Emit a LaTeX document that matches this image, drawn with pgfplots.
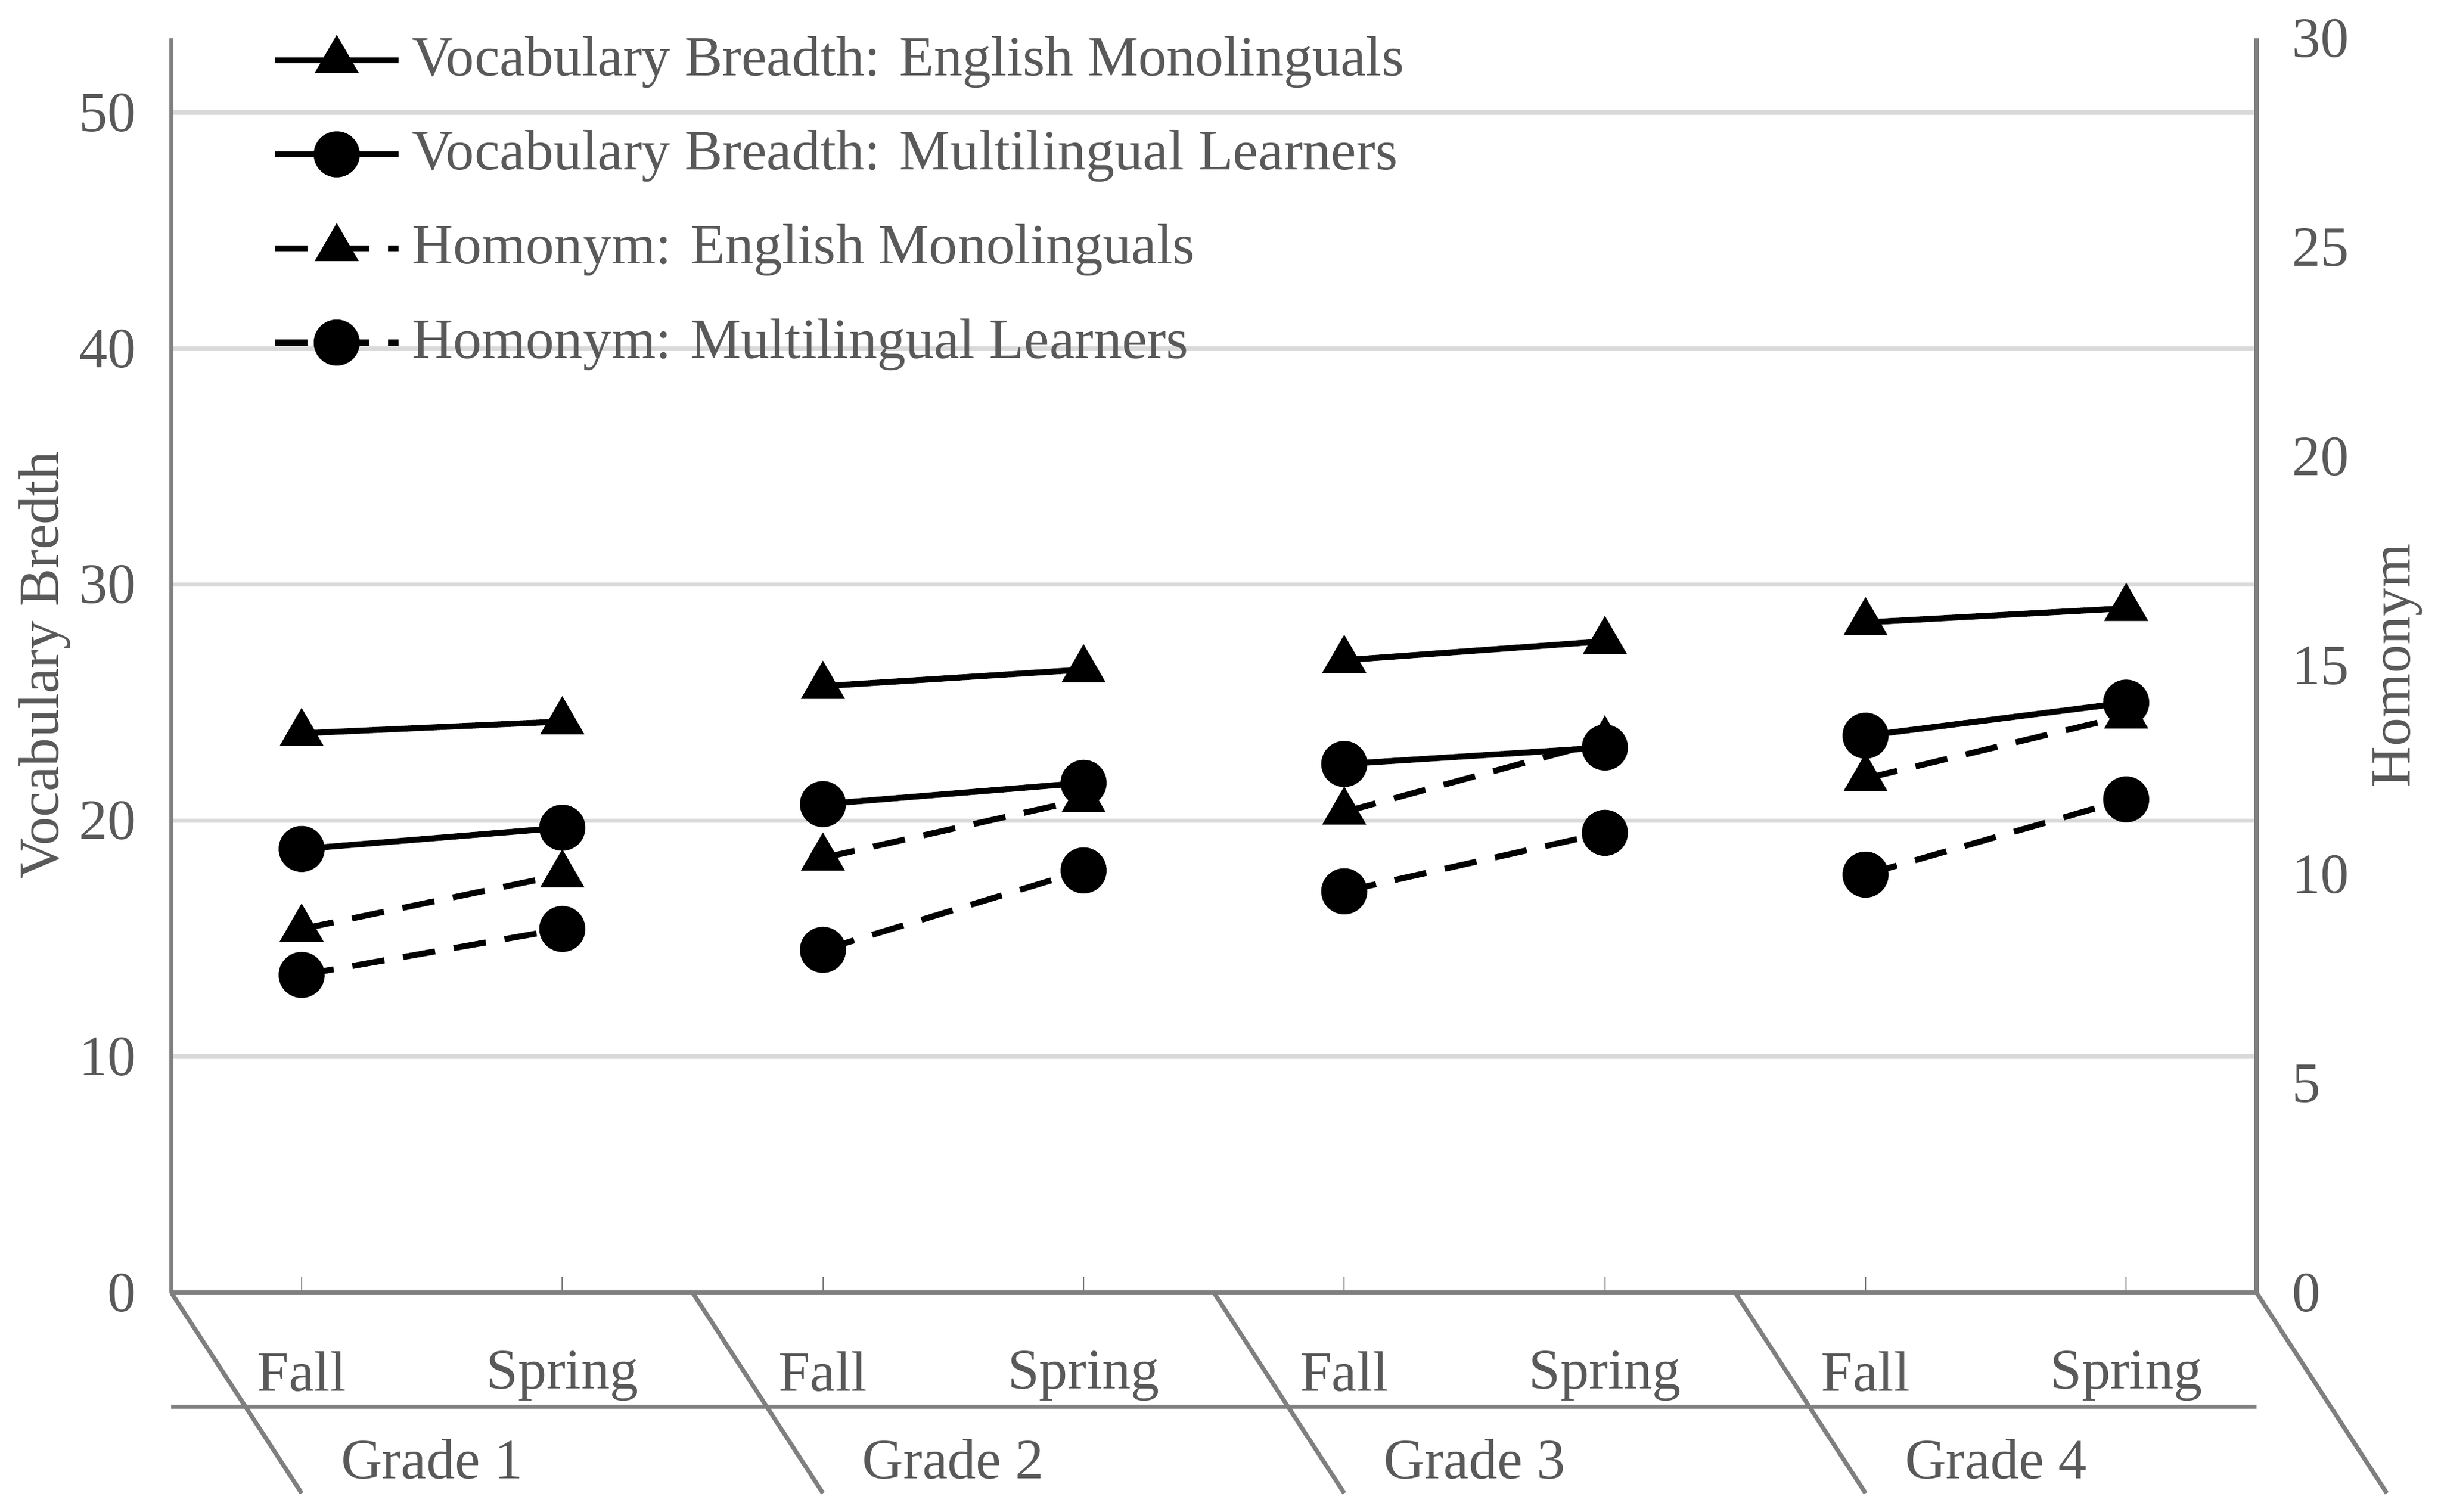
\documentclass[border=0pt]{standalone}
\usepackage{pgfplots}
\pgfplotsset{compat=1.18}
\usepackage{fontspec}
\setmainfont{Liberation Serif}
\definecolor{tg}{HTML}{595959}
\definecolor{ax}{HTML}{7F7F7F}
\definecolor{gr}{HTML}{D9D9D9}
\begin{document}
\fontsize{10.5}{12}\selectfont
\begin{tikzpicture}
\pgfplotsset{
 base/.style={scale only axis, width=13.52cm, height=8.13cm,
  xmin=-0.5, xmax=7.5, ymin=0, clip=false,
  /pgf/number format/assume math mode=true,
  tick label style={color=tg,font=\fontsize{10.5}{12}\selectfont},
  label style={color=tg,font=\fontsize{10.5}{12}\selectfont},
  major tick length=0.1cm, tick style={color=ax},
 },
 sl/.style={black,line width=1.1pt},
 dl/.style={black,line width=1.1pt,dash pattern=on 6pt off 3.5pt},
 tri/.style={mark=triangle*,mark size=3.6pt,mark options={solid}},
 cir/.style={mark=*,mark size=3.7pt,mark options={solid}},
}
\begin{axis}[base, name=a1, ymax=53.14,
  axis x line*=bottom, axis y line*=left, x axis line style={ax,line width=0.8pt},
  y axis line style={ax,line width=0.8pt},
  ytick={0,10,20,30,40,50}, ymajorgrids, grid style={gr,line width=0.8pt},
  ytick style={draw=none}, yticklabel style={xshift=-0.1cm},
  xtick={0,...,7}, xticklabels={Fall,Spring,Fall,Spring,Fall,Spring,Fall,Spring},
  xtick align=inside, xticklabel style={yshift=-0.25cm},
  ylabel={Vocabulary Bredth}, ylabel style={yshift=-0.2cm},
  legend style={draw=none, fill=none, at={(0.04,1.02)}, anchor=north west,
    font=\fontsize{10.5}{12}\selectfont, text=tg, row sep=4.5pt, cells={anchor=west}},
  legend cell align=left,
  legend image code/.code={\draw[#1] (0cm,0cm) -- (0.4cm,0cm); \draw[#1,mark repeat=1] plot coordinates {(0.4cm,0cm)}; \draw[#1] (0.4cm,0cm) -- (0.8cm,0cm);},
]
\addlegendimage{sl,tri}
\addlegendentry{Vocabulary Breadth: English Monolinguals}
\addlegendimage{sl,cir}
\addlegendentry{Vocabulary Breadth: Multilingual Learners}
\addlegendimage{dl,tri}
\addlegendentry{Homonym: English Monolinguals}
\addlegendimage{dl,cir}
\addlegendentry{Homonym: Multilingual Learners}
\addplot[sl,tri,forget plot] coordinates {(0,23.7)(1,24.2)};
\addplot[sl,tri,forget plot] coordinates {(2,25.7)(3,26.4)};
\addplot[sl,tri,forget plot] coordinates {(4,26.8)(5,27.6)};
\addplot[sl,tri,forget plot] coordinates {(6,28.4)(7,29.0)};
\addplot[sl,cir,forget plot] coordinates {(0,18.8)(1,19.7)};
\addplot[sl,cir,forget plot] coordinates {(2,20.7)(3,21.6)};
\addplot[sl,cir,forget plot] coordinates {(4,22.4)(5,23.1)};
\addplot[sl,cir,forget plot] coordinates {(6,23.6)(7,25.0)};
\pgfplotsinvokeforeach{-0.5,1.5,3.5,5.5,7.5}{
  \draw[ax,line width=0.8pt] (axis cs:#1,0) -- ++(0,-1.3cm);
}
\draw[ax,line width=0.8pt] ([yshift=-0.74cm]axis cs:-0.5,0) -- ([yshift=-0.74cm]axis cs:7.5,0);
\node[tg] at ([yshift=-1.08cm]axis cs:0.5,0) {Grade 1};
\node[tg] at ([yshift=-1.08cm]axis cs:2.5,0) {Grade 2};
\node[tg] at ([yshift=-1.08cm]axis cs:4.5,0) {Grade 3};
\node[tg] at ([yshift=-1.08cm]axis cs:6.5,0) {Grade 4};
\end{axis}
\begin{axis}[base, ymax=30, axis x line=none, axis y line*=right,
  y axis line style={ax,line width=0.8pt}, ytick={0,5,...,30}, ytick style={draw=none},
  yticklabel style={xshift=0.1cm},
  ylabel={Homonym}, ylabel style={yshift=0.1cm}]
\addplot[dl,tri] coordinates {(0,8.7)(1,10.0)};
\addplot[dl,tri] coordinates {(2,10.4)(3,11.8)};
\addplot[dl,tri] coordinates {(4,11.5)(5,13.2)};
\addplot[dl,tri] coordinates {(6,12.3)(7,13.8)};
\addplot[dl,cir] coordinates {(0,7.6)(1,8.7)};
\addplot[dl,cir] coordinates {(2,8.2)(3,10.1)};
\addplot[dl,cir] coordinates {(4,9.6)(5,11.0)};
\addplot[dl,cir] coordinates {(6,10.0)(7,11.8)};
\end{axis}
\path ([xshift=-1.08cm,yshift=-1.42cm]a1.south west) rectangle ([xshift=1.0cm,yshift=0.25cm]a1.north east);
\end{tikzpicture}
\end{document}
